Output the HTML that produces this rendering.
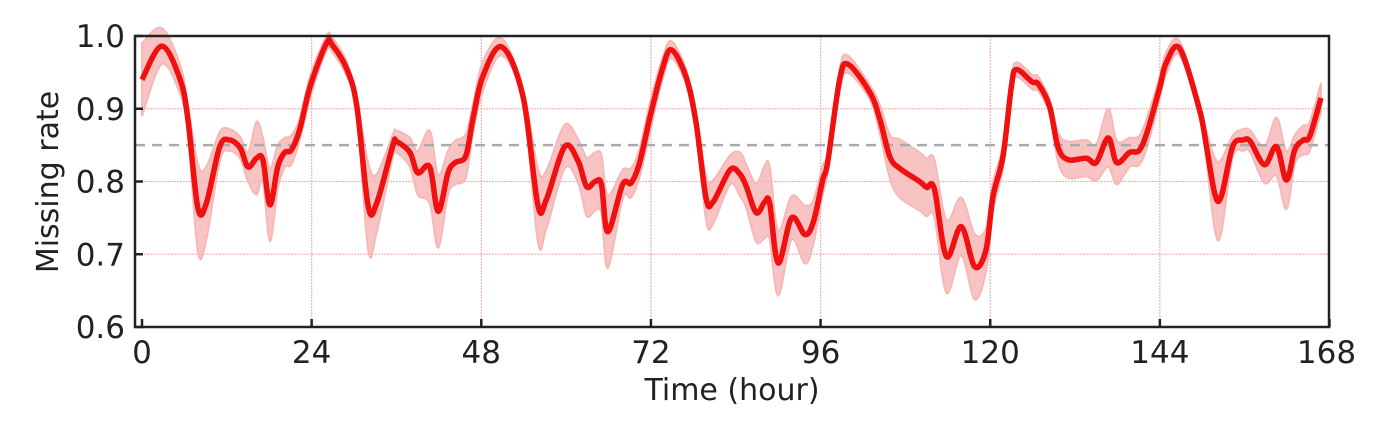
<!DOCTYPE html>
<html><head><meta charset="utf-8"><style>
body{margin:0;background:#fff;}
svg{display:block;font-family:"DejaVu Sans","Liberation Sans",sans-serif;}
</style></head><body>
<svg id="chart" width="1400" height="435"></svg>
<script>
const hours=[0,2.8,5.4,6.5,7.9,9.1,11,12.4,13.9,15,16.2,17.1,18.1,19.2,20.2,21.1,22.3,23.8,26.1,26.9,29,30.4,32,33.2,35.5,36,37.9,39,40.7,41.9,43.3,44.3,45.8,46.8,48.2,50.9,53.9,56,57.2,59.8,61.7,62.9,64.1,65,65.9,68,69.2,70.4,71.9,73.6,74.9,77,78.4,79.8,80.8,83.2,84.6,85.5,86.9,88.1,88.8,90,91.9,93.8,95,96.3,97,98.7,99.9,103,104.4,105.8,107.2,110,111,112.1,113.8,115.9,117.8,119.4,120.4,121.8,123,123.7,125.9,126.8,128.4,129.6,131,133.6,135,136.7,137.9,139.7,141.1,142.3,144,144.9,146.8,149.6,150.6,151.8,152.7,154.3,155.8,156.8,158.8,160.5,161.9,163.1,164.3,165.2,166.8];
const rates=[.94,.986,.94,.885,.764,.77,.848,.857,.846,.82,.832,.83,.768,.82,.84,.843,.871,.931,.99,.988,.954,.903,.766,.77,.85,.855,.84,.812,.82,.759,.812,.826,.835,.885,.944,.985,.917,.768,.775,.848,.828,.793,.80,.796,.731,.796,.798,.826,.89,.954,.981,.943,.88,.777,.772,.816,.81,.793,.757,.772,.77,.688,.75,.727,.745,.802,.826,.94,.961,.922,.885,.834,.818,.80,.792,.79,.697,.738,.683,.706,.78,.834,.931,.954,.937,.934,.903,.847,.83,.832,.826,.86,.826,.84,.843,.871,.93,.963,.983,.899,.848,.782,.78,.848,.857,.855,.823,.848,.802,.844,.857,.862,.915];
const spread=[.05,.025,.02,.02,.06,.05,.02,.015,.015,.02,.05,.03,.05,.03,.02,.02,.015,.015,.01,.01,.01,.01,.06,.04,.015,.015,.02,.03,.05,.05,.03,.03,.03,.02,.02,.012,.01,.05,.04,.03,.03,.04,.04,.04,.05,.02,.02,.02,.02,.015,.012,.01,.01,.03,.03,.02,.03,.03,.04,.05,.05,.045,.03,.04,.03,.02,.015,.015,.012,.01,.02,.03,.04,.04,.04,.04,.05,.04,.045,.03,.02,.015,.01,.01,.01,.01,.01,.02,.025,.025,.025,.04,.03,.02,.02,.02,.015,.015,.01,.01,.02,.05,.05,.015,.015,.015,.025,.04,.04,.02,.02,.02,.02];
const xTicks=[0,24,48,72,96,120,144,168];
const yTicks=[0.6,0.7,0.8,0.9,1.0];
const meanRate=0.85;

const NS="http://www.w3.org/2000/svg";
const svg=document.getElementById('chart');
const L=135,R=1329,T=36,B=327;
const x0=142,x1=1329.5;
const sx=h=>x0+(x1-x0)*h/168;
const sy=v=>B-(B-T)*(v-0.6)/0.4;
function mk(tag,attrs,parent){const e=document.createElementNS(NS,tag);for(const k in attrs)e.setAttribute(k,attrs[k]);(parent||svg).appendChild(e);return e;}
function smooth(pts){let d='M'+pts[0][0]+','+pts[0][1];for(let i=0;i<pts.length-1;i++){const p0=pts[Math.max(0,i-1)],p1=pts[i],p2=pts[i+1],p3=pts[Math.min(pts.length-1,i+2)];const c1=[p1[0]+(p2[0]-p0[0])/6,p1[1]+(p2[1]-p0[1])/6],c2=[p2[0]-(p3[0]-p1[0])/6,p2[1]-(p3[1]-p1[1])/6];d+=' C'+c1[0]+','+c1[1]+' '+c2[0]+','+c2[1]+' '+p2[0]+','+p2[1];}return d;}

yTicks.forEach(v=>{if(v>0.6&&v<1.0){const g=mk('line',{x1:L,x2:R,y1:sy(v),y2:sy(v),stroke:'#f2b8b8','stroke-width':1.3,'stroke-dasharray':'2,1'});

}});
xTicks.forEach(h=>{if(h>0&&h<168){const g=mk('line',{x1:sx(h),x2:sx(h),y1:T,y2:B,stroke:'#f2b8b8','stroke-width':1.3,'stroke-dasharray':'2,1'});

}});

const upP=hours.map((h,i)=>[sx(h),sy(rates[i]+spread[i])]);
const loP=hours.map((h,i)=>[sx(h),sy(rates[i]-spread[i])]).reverse();
const bandD=smooth(upP)+' L'+smooth(loP).slice(1)+' Z';
const band=mk('path',{d:bandD,fill:'#f7b8b8','fill-opacity':0.85,stroke:'#f7b8b8','stroke-width':2});



const ml=mk('line',{x1:L,x2:R,y1:sy(meanRate),y2:sy(meanRate),stroke:'#aaaaaa','stroke-width':2.5,'stroke-dasharray':'10,7'});



const line=mk('path',{d:smooth(hours.map((h,i)=>[sx(h),sy(rates[i])])),fill:'none',stroke:'#f01010','stroke-width':5.5,'stroke-linejoin':'round'});



const fr=mk('rect',{x:L,y:T,width:R-L,height:B-T,fill:'none',stroke:'#222','stroke-width':2.5});



xTicks.forEach(h=>{
  const t=mk('line',{x1:sx(h),x2:sx(h),y1:B,y2:B-8,stroke:'#222','stroke-width':2.5});
  
  
  const tx=mk('text',{x:h===168?sx(h)-3:sx(h),y:363,'text-anchor':'middle','font-size':31,fill:'#222'});
  tx.textContent=h;
  
  
});
yTicks.forEach(v=>{
  const t=mk('line',{x1:L,x2:L+8,y1:sy(v),y2:sy(v),stroke:'#222','stroke-width':2.5});
  
  
  const tx=mk('text',{x:125,y:sy(v)+11,'text-anchor':'end','font-size':31,fill:'#222'});
  tx.textContent=v.toFixed(1);
  
  
});
const xt=mk('text',{x:732,y:400,'text-anchor':'middle','font-size':30,fill:'#222'});
xt.textContent='Time (hour)';


const yt=mk('text',{x:0,y:0,'text-anchor':'middle','font-size':30,fill:'#222',transform:'translate(58,182) rotate(-90)'});
yt.textContent='Missing rate';


</script>
</body></html>
